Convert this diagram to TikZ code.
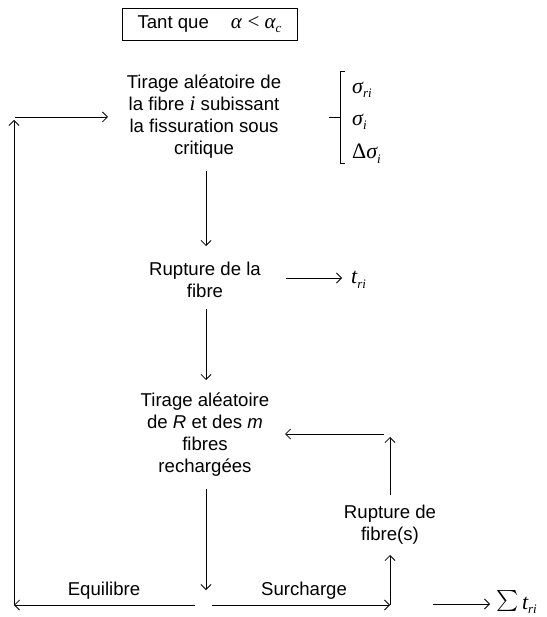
\documentclass[tikz,border=0pt]{standalone}
\usepackage{graphicx}
\usepackage{fontspec}
\setmainfont{Liberation Sans}
\newfontfamily\tms{Liberation Serif}
\usetikzlibrary{arrows.meta}
\newcommand\mysub[1]{\raisebox{-0.45ex}{\fontsize{13}{13}\selectfont\itshape #1}}
\tikzset{
  txt/.style={font=\fontsize{18.6}{22}\selectfont, align=center, inner sep=0pt},
  mth/.style={font=\fontsize{22}{24}\selectfont\tms, inner sep=0pt, anchor=west},
  arr/.style={line width=0.8pt, -{Straight Barb[length=5pt,width=10pt]}},
  ln/.style={line width=0.8pt}
}
\begin{document}
\begin{tikzpicture}[x=1pt,y=-1pt]
\useasboundingbox (0,0) rectangle (546,617);
% header box
\node[draw, line width=0.8pt, minimum width=175pt, minimum height=32pt, inner sep=0pt, font=\fontsize{18.6}{22}\selectfont] (tq) at (209.5,24)
  {Tant que\hspace{22pt}{\tms\fontsize{21}{22}\selectfont\itshape α\/ \upshape<\itshape\ α\mysub{c}}};
% nodes
\node[txt] (n1) at (204,117) {Tirage aléatoire de\\la fibre {\tms\itshape\fontsize{21}{22}\selectfont i} subissant\\la fissuration sous\\critique};
\node[txt] (n2) at (205,280) {Rupture de la\\fibre};
\node[txt] (n3) at (205,435) {Tirage aléatoire\\de \textit{R} et des \textit{m}\\fibres\\rechargées};
\node[txt] (n4) at (390,525) {Rupture de\\fibre(s)};
% brace items
\node[mth] (s1) at (352,90) {\itshape σ\mysub{ri}};
\node[mth] (s2) at (352,122) {\itshape σ\mysub{i}};
\node[mth] (s3) at (352,154) {Δ\itshape σ\mysub{i}};
\draw[ln] (345,71) -- (340,71) -- (340,163) -- (345,163);
\draw[ln] (329,117) -- (340,117);
% t_ri
\node[mth] (tri) at (351,280) {\itshape t\mysub{ri}};
\node[mth] (sum) at (496,602) {\raisebox{-0.25ex}{\scalebox{2.1}{$\sum$}}\,\itshape t\mysub{ri}};
% labels
\node[txt] (eq) at (104,591) {Equilibre};
\node[txt] (sc) at (304,591) {Surcharge};
% coordinates
\coordinate (a1) at (206,171);
\coordinate (a1e) at (206,246);
\coordinate (a2) at (206,309);
\coordinate (a2e) at (206,380);
\coordinate (a3) at (206,489);
\coordinate (a3e) at (206,590);
\coordinate (eqs) at (195,605);
\coordinate (corner) at (14,605);
\coordinate (lefttop) at (14,120);
\coordinate (hl) at (15,117);
\coordinate (hr) at (108,117);
\coordinate (scs) at (212,605);
\coordinate (sce) at (390,605);
\coordinate (v1e) at (390,555);
\coordinate (v2s) at (390,495);
\coordinate (v2e) at (390,437);
\coordinate (h2s) at (384,434);
\coordinate (h2e) at (285,434);
\coordinate (t1s) at (286,278);
\coordinate (t1e) at (342,278);
\coordinate (t2s) at (433,604);
\coordinate (t2e) at (490,604);
% connectors
\draw[arr] (a1) -- (a1e);
\draw[arr] (a2) -- (a2e);
\draw[arr] (a3) -- (a3e);
\draw[arr] (eqs) -- (corner);
\draw[arr] (corner) -- (lefttop);
\draw[arr] (hl) -- (hr);
\draw[arr] (scs) -- (sce);
\draw[arr] (sce) -- (v1e);
\draw[arr] (v2s) -- (v2e);
\draw[arr] (h2s) -- (h2e);
\draw[arr] (t1s) -- (t1e);
\draw[arr] (t2s) -- (t2e);
\end{tikzpicture}
\end{document}
